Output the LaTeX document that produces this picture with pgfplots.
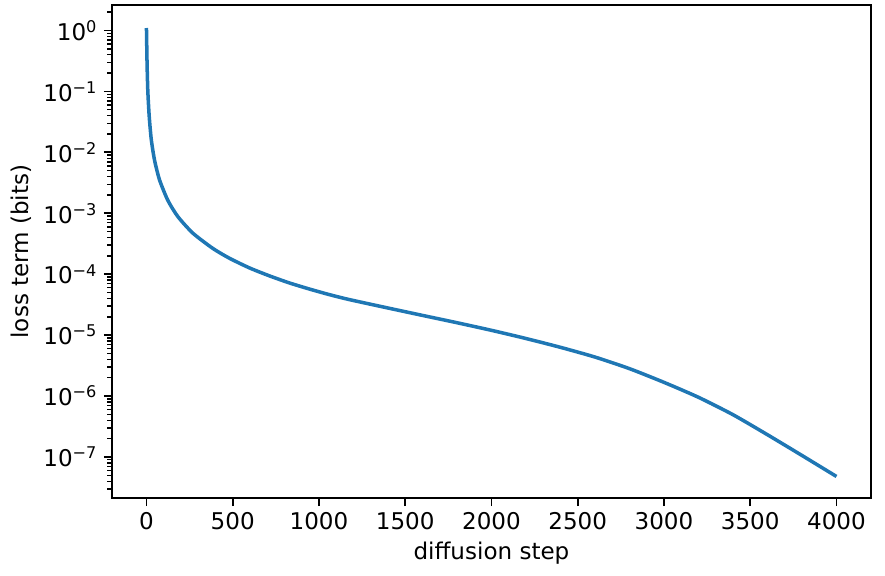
\documentclass[border=0pt]{standalone}
\usepackage{pgfplots}
\pgfplotsset{compat=1.18}
\usepackage{fontspec}
\setmainfont{DejaVu Sans}
\definecolor{tabblue}{HTML}{1F77B4}
\begin{document}
\begin{tikzpicture}
\path[use as bounding box] (-62.2pt,-42.8pt) rectangle (429.5pt,276.7pt);
\begin{axis}[
  at={(0,0)}, anchor=south west,
  scale only axis,
  width=421.7pt, height=273.9pt,
  ymode=log, log basis y=10,
  xmin=-200, xmax=4200,
  ymin=2.12e-8, ymax=2.62,
  xtick={0,500,1000,1500,2000,2500,3000,3500,4000},
  ytick={1e-7,1e-6,1e-5,1e-4,1e-3,1e-2,1e-1,1},
  yticklabels={10\textsuperscript{−7},10\textsuperscript{−6},10\textsuperscript{−5},10\textsuperscript{−4},10\textsuperscript{−3},10\textsuperscript{−2},10\textsuperscript{−1},10\textsuperscript{0}},
  minor ytick={3e-8,4e-8,5e-8,6e-8,7e-8,8e-8,9e-8,
    2e-7,3e-7,4e-7,5e-7,6e-7,7e-7,8e-7,9e-7,
    2e-6,3e-6,4e-6,5e-6,6e-6,7e-6,8e-6,9e-6,
    2e-5,3e-5,4e-5,5e-5,6e-5,7e-5,8e-5,9e-5,
    2e-4,3e-4,4e-4,5e-4,6e-4,7e-4,8e-4,9e-4,
    2e-3,3e-3,4e-3,5e-3,6e-3,7e-3,8e-3,9e-3,
    2e-2,3e-2,4e-2,5e-2,6e-2,7e-2,8e-2,9e-2,
    2e-1,3e-1,4e-1,5e-1,6e-1,7e-1,8e-1,9e-1,2},
  xticklabel style={/pgf/number format/assume math mode=true, /pgf/number format/1000 sep={}},
  scaled x ticks=false,
  tick align=outside,
  xtick pos=bottom, ytick pos=left,
  major tick length=4.55pt, minor tick length=2.6pt,
  every tick/.style={black, line width=1.04pt},
  every minor tick/.style={black, line width=0.78pt},
  axis line style={line width=1.04pt},
  tick label style={font=\fontsize{12.8pt}{15pt}\selectfont},
  xlabel={diffusion step},
  ylabel={loss term (bits)},
  label style={font=\fontsize{12.8pt}{15pt}\selectfont},
  xlabel style={at={(axis description cs:0.5,-0.111)}, anchor=center},
  ylabel style={at={(axis description cs:-0.1195,0.5)}, anchor=center, rotate=0},
]
\addplot[tabblue, line width=1.95pt, smooth, tension=0.4] coordinates {
(0,1.1) (1,0.79) (2,0.5) (4,0.25) (8,0.1) (16,0.039) (28,0.0162)
(47,0.00741) (76,0.00352) (124,0.00163) (182,0.000883) (269,0.000472)
(385,0.000265) (481,0.000183) (597,0.000127) (713,0.000094)
(829,0.0000719) (945,0.0000571) (1061,0.0000462) (1177,0.0000383)
(1400,0.0000279) (1600,0.0000211) (1800,0.000016) (2000,0.000012)
(2200,0.00000881) (2400,0.00000631) (2600,0.00000437) (2800,0.00000282)
(3000,0.00000168) (3200,9.55e-7) (3400,4.95e-7) (3600,2.32e-7)
(3800,1.06e-7) (4000,4.79e-8)
};
\end{axis}
\end{tikzpicture}
\end{document}
